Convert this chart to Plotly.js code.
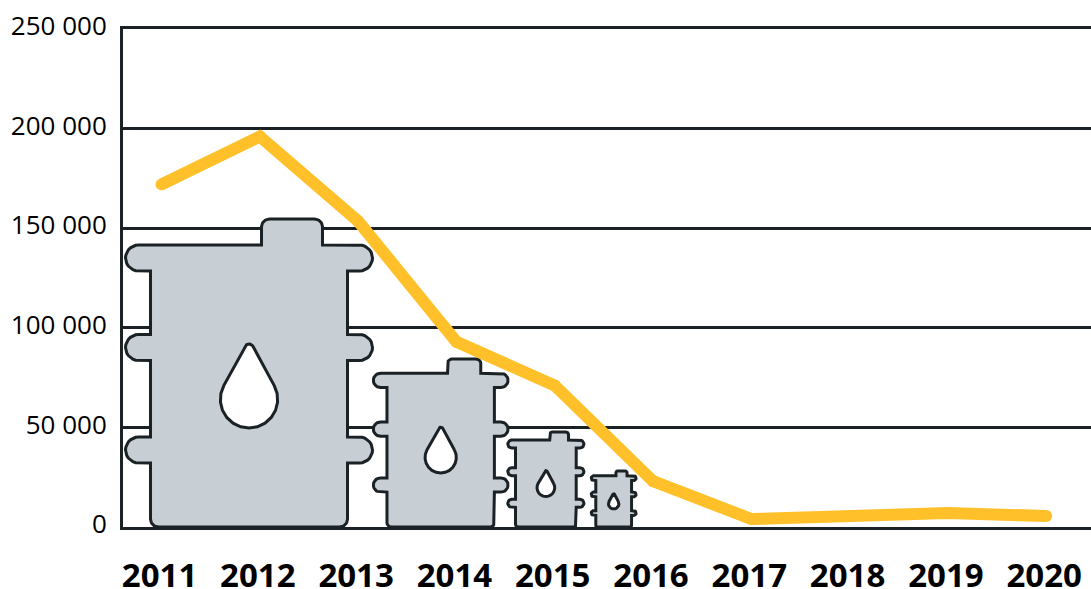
<!DOCTYPE html>
<html>
<head>
<meta charset="utf-8">
<script src="https://cdn.plot.ly/plotly-3.0.1.min.js"></script>
<style>html,body{margin:0;padding:0;background:#fff}</style>
</head>
<body>
<div id="chart" style="width:1091px;height:589px"></div>
<script>
// Line series
const years = [2011, 2012, 2013, 2014, 2015, 2016, 2017, 2018, 2019, 2020];
const lineValues = [172000, 196000, 153500, 93000, 71000, 23000, 4000, 5500, 7000, 5500];
// Barrel pictograms: height encodes the value
const barrelValues = [154800, 84400, 47700, 28100];
const barrelCentres = [2011.89, 2013.84, 2014.91, 2015.60];
// Axis labels
const yTickVals = [0, 50000, 100000, 150000, 200000, 250000];
const yTickText = ['0', '50 000', '100 000', '150 000', '200 000', '250 000'];

const DARK = '#1a2226', GREY = '#c7ced4', AMBER = '#ffc02a';
const W = 1091, H = 589, L = 123, R = 0, T = 29, B = 62;
const xRange = [2010.608, 2020.456];
const yRange = [0, 250000];
const yearsPerPx = (xRange[1] - xRange[0]) / (W - L - R);
const valuePerPx = (yRange[1] - yRange[0]) / (H - T - B);

function arc(cx, cy, r, a0, a1) {
  const n = 14, pts = [];
  for (let i = 0; i <= n; i++) {
    const a = (a0 + (a1 - a0) * i / n) * Math.PI / 180;
    pts.push([cx + r * Math.cos(a), cy + r * Math.sin(a)]);
  }
  return pts;
}
// Outline of the reference barrel, pixels relative to the centre of its base
function barrelOutline() {
  const body = 98.5, rimC = 110.5, rimR = 13, cr = 8;
  const rims = [77, 179.5, 269];
  let p = [];
  p = p.concat(arc(-body + cr, cr, cr, 270, 180));
  rims.forEach(h => { p.push([-body, h - rimR]); p = p.concat(arc(-rimC, h, rimR, 270, 90)); p.push([-body, h + rimR]); });
  p.pop();
  p.push([12.5, 282]);
  p = p.concat(arc(20.5, 300, cr, 180, 90));
  p = p.concat(arc(65.5, 300, cr, 90, 0));
  p.push([73.5, 282]);
  rims.slice().reverse().forEach((h, i) => {
    if (i > 0) p.push([body, h + rimR]);
    p = p.concat(arc(rimC, h, rimR, 90, -90));
    p.push([body, h - rimR]);
  });
  p = p.concat(arc(body - cr, cr, cr, 0, -90));
  p.push(p[0]);
  return p;
}
function dropOutline() {
  const r1 = 28.7, c1 = 127.7, r2 = 4.5, c2 = 178.5;
  const alpha = Math.asin((r1 - r2) / (c2 - c1)) * 180 / Math.PI;
  let p = arc(0, c1, r1, alpha, -180 - alpha);
  p = p.concat(arc(0, c2, r2, 180 - alpha, alpha));
  p.push(p[0]);
  return p;
}
const REF_VALUE = barrelValues[0];
function place(outline, value, centre) {
  const s = value / REF_VALUE;
  return {
    x: outline.map(q => centre + q[0] * s * yearsPerPx),
    y: outline.map(q => q[1] * s * valuePerPx)
  };
}
const traces = [];
barrelValues.forEach((v, i) => {
  const b = place(barrelOutline(), v, barrelCentres[i]);
  traces.push({ type: 'scatter', mode: 'lines', x: b.x, y: b.y, fill: 'toself', fillcolor: GREY,
    line: { color: DARK, width: 3 }, hoverinfo: 'skip', showlegend: false });
  const d = place(dropOutline(), v, barrelCentres[i]);
  traces.push({ type: 'scatter', mode: 'lines', x: d.x, y: d.y, fill: 'toself', fillcolor: '#ffffff',
    line: { color: DARK, width: 3 }, hoverinfo: 'skip', showlegend: false });
});
traces.push({ type: 'scatter', mode: 'lines+markers', x: years, y: lineValues,
  line: { color: AMBER, width: 12 }, marker: { color: AMBER, size: 12 },
  cliponaxis: false, showlegend: false });

const layout = {
  width: W, height: H,
  margin: { l: L, r: R, t: T, b: B, pad: 0 },
  paper_bgcolor: '#ffffff', plot_bgcolor: '#ffffff',
  showlegend: false,
  font: { family: '"Open Sans", sans-serif', color: '#000000' },
  xaxis: {
    range: xRange, tickmode: 'array', tickvals: years, ticktext: years.map(String),
    showgrid: false, zeroline: false, showline: true, mirror: true, linecolor: DARK, linewidth: 3,
    ticks: '', ticklabelstandoff: 17, ticklabelshift: -2,
    tickfont: { family: '"Open Sans", sans-serif', size: 33, weight: 700, color: '#000000' }
  },
  yaxis: {
    range: yRange, tickmode: 'array', tickvals: yTickVals, ticktext: yTickText,
    showgrid: true, gridcolor: DARK, gridwidth: 3, zeroline: false,
    showline: true, linecolor: DARK, linewidth: 3,
    ticks: '', ticklabelstandoff: 8, ticklabelshift: -3,
    tickfont: { family: '"Open Sans", sans-serif', size: 26, color: '#000000' }
  }
};
Plotly.newPlot('chart', traces, layout, { displayModeBar: false, staticPlot: true });
</script>
</body>
</html>
